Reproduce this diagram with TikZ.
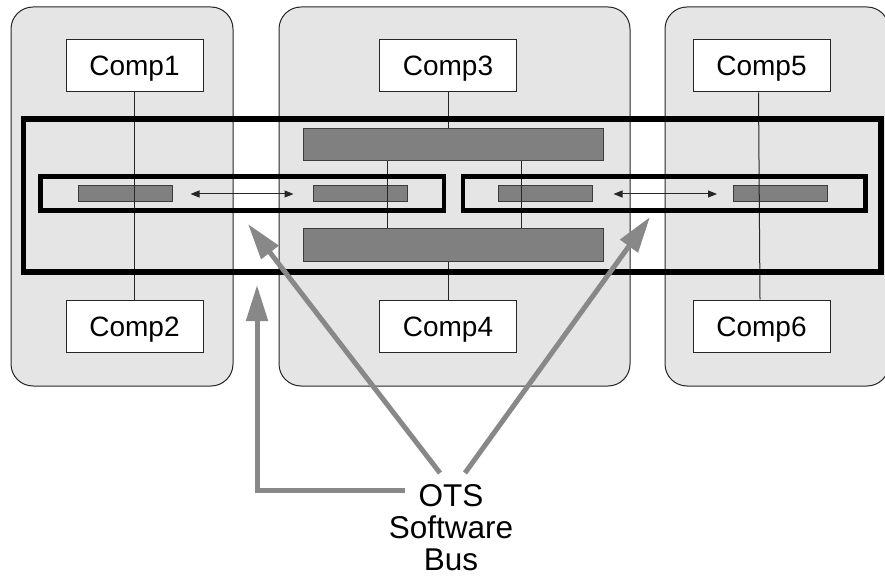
\documentclass[tikz,border=0pt]{standalone}
\usepackage{fontspec}
\setmainfont{Liberation Sans}
\usetikzlibrary{arrows.meta,calc}

\definecolor{regionfill}{RGB}{229,229,229}
\definecolor{blockfill}{RGB}{128,128,128}
\definecolor{blockedge}{RGB}{60,60,60}
\definecolor{pointer}{RGB}{136,136,136}

\tikzset{
  region/.style={draw=black!85, line width=1pt, fill=regionfill, rounded corners=22pt},
  comp/.style={draw=black!85, line width=1pt, fill=white, minimum width=137pt,
    minimum height=52pt, inner sep=0pt, text height=20pt, text depth=0pt,
    font=\fontsize{28}{32}\selectfont},
  smallblock/.style={draw=blockedge, line width=1pt, fill=blockfill,
    minimum width=94pt, minimum height=16pt, inner sep=0pt},
  bigblock/.style={draw=blockedge, line width=1pt, fill=blockfill,
    minimum width=300pt, minimum height=32pt, inner sep=0pt},
  link/.style={draw=black!85, line width=1pt},
  busframe/.style={draw=black, line width=5.5pt},
  subbus/.style={draw=black, line width=4.5pt},
  msg/.style={draw=black!85, line width=1pt, {Triangle[length=9pt,width=7pt]}-{Triangle[length=9pt,width=7pt]}},
  pointerarrow/.style={draw=pointer, line width=5pt, -{Triangle[length=36pt,width=21pt]}},
}

\begin{document}
\begin{tikzpicture}[x=1pt, y=-1pt]
  \useasboundingbox (0,0) rectangle (885,577);

  % three host regions
  \draw[region] (11,7) rectangle (233,386);
  \draw[region] (279,7) rectangle (630,386);
  \draw[region] (665,7) rectangle (889,386);

  % components
  \node[comp] (c1) at (134.5,66) {Comp1};
  \node[comp] (c2) at (134.5,326) {Comp2};
  \node[comp] (c3) at (448,66) {Comp3};
  \node[comp] (c4) at (448,326) {Comp4};
  \node[comp] (c5) at (761.5,66) {Comp5};
  \node[comp] (c6) at (761.5,326) {Comp6};

  % bus adapters
  \node[smallblock] (s1) at (125,194) {};
  \node[smallblock] (s2) at (360,194) {};
  \node[smallblock] (s3) at (545,194) {};
  \node[smallblock] (s4) at (780.5,194) {};
  \node[bigblock] (bt) at (453,145) {};
  \node[bigblock] (bb) at (453,245) {};

  % attachments
  \draw[link] (c1.south) -- (c2.north);
  \draw[link] ([xshift=-3pt]c5.south) -- ([xshift=-1.5pt]c6.north);
  \draw[link] (c3.south) -- (c3.south |- bt.north);
  \draw[link] (c4.north) -- (c4.north |- bb.south);
  \draw[link] ([xshift=85pt]bt.south west) -- ([xshift=85pt]bb.north west);
  \draw[link] ([xshift=219pt]bt.south west) -- ([xshift=219pt]bb.north west);

  % software bus frames
  \draw[busframe] (23.5,119) rectangle (881,272);
  \draw[subbus] (40.5,176.5) rectangle (444,210.5);
  \draw[subbus] (463,176.5) rectangle (865.5,210.5);

  % messages
  \draw[msg] ([xshift=18pt]s1.east) -- ([xshift=-19pt]s2.west);
  \draw[msg] ([xshift=21pt]s3.east) -- ([xshift=-16pt]s4.west);

  % caption and pointers
  \node[align=center, anchor=north, inner sep=0pt,
        font=\fontsize{31.5}{32}\selectfont] (ots) at (451,484) {OTS\\Software\\Bus};
  \coordinate (tailA) at (405,490);
  \coordinate (tailB) at (440,473);
  \coordinate (tailC) at (465,473);
  \coordinate (tipA) at (257,285);
  \coordinate (tipB) at (248,224);
  \coordinate (tipC) at (650,217);
  \draw[pointerarrow] (tailA) -- (tailA -| tipA) -- (tipA);
  \draw[pointerarrow] (tailB) -- (tipB);
  \draw[pointerarrow] (tailC) -- (tipC);
\end{tikzpicture}
\end{document}
